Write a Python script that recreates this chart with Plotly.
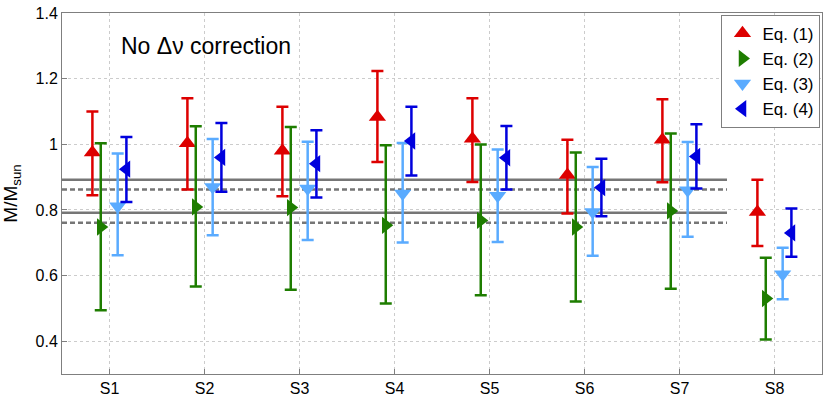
import plotly.graph_objects as go

#-----DATA
stars = ["S1", "S2", "S3", "S4", "S5", "S6", "S7", "S8"]
pos = [1, 2, 3, 4, 5, 6, 7, 8]

eq1 = [0.975, 1.003, 0.98, 1.083, 1.017, 0.906, 1.014, 0.794]
eq1_hi = [1.10, 1.14, 1.114, 1.223, 1.14, 1.014, 1.137, 0.892]
eq1_lo = [0.845, 0.862, 0.842, 0.946, 0.885, 0.789, 0.884, 0.69]

eq2 = [0.748, 0.809, 0.807, 0.753, 0.768, 0.748, 0.797, 0.53]
eq2_hi = [1.003, 1.055, 1.053, 0.997, 0.999, 0.975, 1.033, 0.654]
eq2_lo = [0.494, 0.567, 0.557, 0.515, 0.54, 0.521, 0.56, 0.405]

eq3 = [0.811, 0.87, 0.865, 0.85, 0.843, 0.794, 0.86, 0.604]
eq3_hi = [0.972, 1.016, 1.008, 1.004, 0.984, 0.931, 1.007, 0.685]
eq3_lo = [0.662, 0.723, 0.708, 0.701, 0.702, 0.66, 0.718, 0.528]

eq4 = [0.924, 0.96, 0.941, 1.01, 0.959, 0.868, 0.963, 0.73]
eq4_hi = [1.022, 1.065, 1.043, 1.114, 1.056, 0.956, 1.061, 0.804]
eq4_lo = [0.824, 0.855, 0.838, 0.905, 0.862, 0.781, 0.865, 0.657]

ref_solid = [0.892, 0.791]
ref_dash = [0.862, 0.761]
ref_span = [0.5, 7.5]

series = [
    ("Eq. (1)", eq1, eq1_hi, eq1_lo, "triangle-up", "#dd0000", -0.18),
    ("Eq. (2)", eq2, eq2_hi, eq2_lo, "triangle-right", "#1e7d00", -0.092),
    ("Eq. (3)", eq3, eq3_hi, eq3_lo, "triangle-down", "#5aabff", 0.086),
    ("Eq. (4)", eq4, eq4_hi, eq4_lo, "triangle-left", "#0000dd", 0.178),
]

fig = go.Figure()

# reference mass lines
for v in ref_solid:
    fig.add_trace(go.Scatter(x=ref_span, y=[v, v], mode="lines", showlegend=False,
                             line=dict(color="#767676", width=2.5), hoverinfo="skip"))
for v in ref_dash:
    fig.add_trace(go.Scatter(x=ref_span, y=[v, v], mode="lines", showlegend=False,
                             line=dict(color="#767676", width=2.5, dash="5px,3px"),
                             hoverinfo="skip"))

for name, val, hi, lo, sym, col, off in series:
    fig.add_trace(go.Scatter(
        x=[p + off for p in pos], y=val, mode="markers", name=name,
        marker=dict(symbol=sym, size=15, color=col, line=dict(width=0)),
        error_y=dict(type="data", symmetric=False,
                     array=[h - v for h, v in zip(hi, val)],
                     arrayminus=[v - l for v, l in zip(val, lo)],
                     color=col, thickness=2.5, width=6),
    ))

fig.add_annotation(x=0.075, y=0.908, xref="paper", yref="paper", xanchor="left",
                   yanchor="middle", showarrow=False, text="No \u0394\u03bd correction",
                   font=dict(size=23, color="black"))

fig.update_layout(
    width=830, height=399,
    margin=dict(l=62, r=8, t=13, b=25),
    plot_bgcolor="white", paper_bgcolor="white",
    font=dict(family="Liberation Sans, Arial, sans-serif", size=16, color="black"),
    legend=dict(x=0.998, y=0.995, xanchor="right", yanchor="top",
                bordercolor="#7f7f7f", borderwidth=1, bgcolor="white",
                font=dict(size=17), tracegroupgap=0, itemwidth=30),
    yaxis_title=dict(text="M/M<sub>sun</sub>", standoff=12, font=dict(size=19)),
)
fig.update_xaxes(range=[0.5, 8.5], tickvals=pos, ticktext=stars, showgrid=True,
                 gridcolor="#cccccc", griddash="dot", gridwidth=1, automargin=False,
                 showline=True, linecolor="#7f7f7f", mirror=True, ticks="inside",
                 ticklen=5, tickcolor="#7f7f7f", zeroline=False,
                 tickfont=dict(size=16))
fig.update_yaxes(range=[0.3, 1.4], dtick=0.2, tick0=0.4, showgrid=True,
                 gridcolor="#cccccc", griddash="dot", gridwidth=1, automargin=False,
                 showline=True, linecolor="#7f7f7f", mirror=True, ticks="inside",
                 ticklen=5, tickcolor="#7f7f7f", zeroline=False,
                 tickfont=dict(size=16))

fig.write_html("out.html", config={"displayModeBar": False},
               post_script="document.body.style.margin='0';document.body.style.overflow='hidden';")
